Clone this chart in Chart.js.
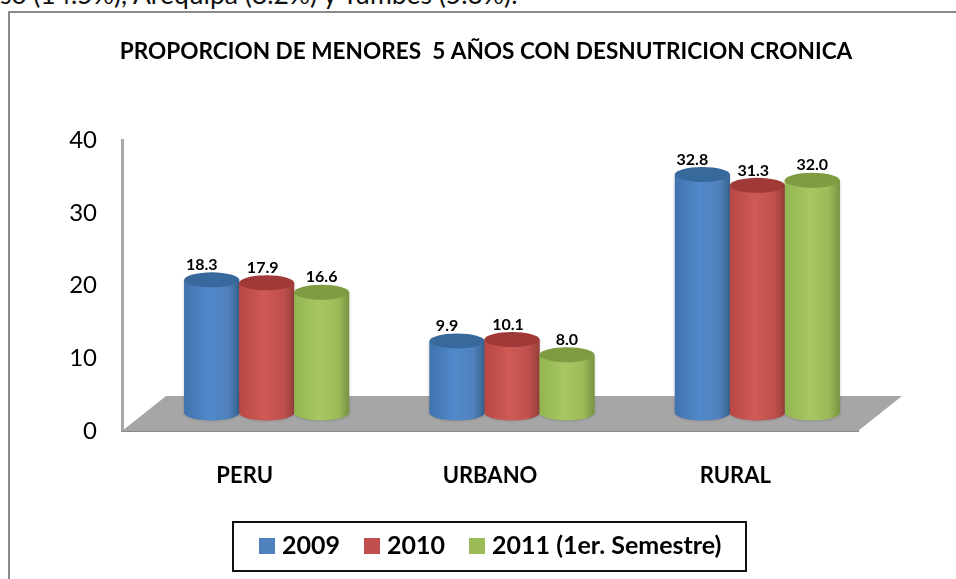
<!DOCTYPE html>
<html lang="es">
<head>
<meta charset="utf-8">
<style>
html,body{margin:0;padding:0;background:#fff;width:956px;height:579px;overflow:hidden}
#top{position:absolute;left:0;top:-22px;font:26.5px Lato,sans-serif;color:#111;white-space:pre}
canvas{position:absolute;left:0;top:0}
</style>
<script src="https://cdn.jsdelivr.net/npm/chart.js@4"></script>
</head>
<body>
<div id="top">so (14.5%), Arequipa (8.2%) y Tumbes (5.3%).</div>
<canvas id="c" width="956" height="579"></canvas>
<script>
const titleText = 'PROPORCION DE MENORES  5 AÑOS CON DESNUTRICION CRONICA';
const categories = ['PERU', 'URBANO', 'RURAL'];
const seriesNames = ['2009', '2010', '2011 (1er. Semestre)'];
const values2009 = [18.3, 9.9, 32.8];
const values2010 = [17.9, 10.1, 31.3];
const values2011 = [16.6, 8.0, 32.0];
const yTicks = [0, 10, 20, 30, 40];

const FONT = 'Lato, sans-serif';
const depth = { dx: 22, dy: -18 };
const capRy = 7.5;
const looks = [
  { base: '#4f81bd', edgeL: '#3f72ad', mid: '#5289cc', edgeR: '#37638f', cap: '#38699c', labelDx: -10 },
  { base: '#c0504d', edgeL: '#b84744', mid: '#cf5a56', edgeR: '#983f3c', cap: '#a03a38', labelDx: -4 },
  { base: '#9bbb59', edgeL: '#93b552', mid: '#a6c763', edgeR: '#789441', cap: '#7f9c42', labelDx: 0 }
];

function swatch(color) {
  const s = document.createElement('canvas');
  s.width = 16; s.height = 16;
  const g = s.getContext('2d');
  g.fillStyle = color; g.fillRect(0, 0, 16, 16);
  return s;
}

function cylinder(c, bar, look) {
  const w = bar.width, x0 = bar.x - w / 2, x1 = bar.x + w / 2, rx = w / 2;
  const grad = c.createLinearGradient(x0, 0, x1, 0);
  grad.addColorStop(0, look.edgeL);
  grad.addColorStop(0.45, look.mid);
  grad.addColorStop(0.8, look.base);
  grad.addColorStop(1, look.edgeR);
  c.save();
  c.shadowColor = 'rgba(0,0,0,0.25)'; c.shadowBlur = 3;
  c.fillStyle = grad;
  c.beginPath();
  c.moveTo(x0, bar.y);
  c.lineTo(x0, bar.base);
  c.ellipse(bar.x, bar.base, rx, capRy, 0, Math.PI, 0, true);
  c.lineTo(x1, bar.y);
  c.closePath(); c.fill();
  c.restore();
  c.fillStyle = look.cap;
  c.beginPath();
  c.ellipse(bar.x, bar.y, rx, capRy, 0, 0, Math.PI * 2);
  c.fill();
}

const scene = {
  id: 'scene',
  afterLayout(chart) {
    const t = chart.titleBlock;
    t.left += 57; t.right += 57;
    t.top = 38; t.bottom = 64;
    const l = chart.legend;
    l.left += 64; l.right += 64;
    l.top = 504; l.bottom = 596;
  },
  beforeDraw(chart) {
    const c = chart.ctx;
    c.save();
    c.strokeStyle = '#8a8a8a'; c.lineWidth = 2;
    c.beginPath(); c.moveTo(9, 579); c.lineTo(9, 12); c.lineTo(956, 12); c.stroke();
    c.strokeStyle = '#111'; c.lineWidth = 2;
    c.strokeRect(233, 522, 513, 49);
    c.restore();
  },
  beforeDatasetsDraw(chart) {
    const c = chart.ctx, a = chart.chartArea;
    c.save();
    c.fillStyle = '#a6a6a6';
    c.beginPath();
    c.moveTo(a.left, a.bottom);
    c.lineTo(a.right, a.bottom);
    c.lineTo(a.right + 44, a.bottom - 35);
    c.lineTo(a.left + 44, a.bottom - 35);
    c.closePath(); c.fill();
    c.restore();
    c.save();
    c.translate(depth.dx, depth.dy);
  },
  afterDatasetsDraw(chart) {
    const c = chart.ctx;
    chart.data.datasets.forEach((ds, i) => {
      chart.getDatasetMeta(i).data.forEach((bar) => cylinder(c, bar, looks[i]));
    });
    chart.data.datasets.forEach((ds, i) => {
      chart.getDatasetMeta(i).data.forEach((bar, j) => {
        c.fillStyle = '#000';
        c.font = 'bold 16px ' + FONT;
        c.textAlign = 'center'; c.textBaseline = 'middle';
        c.fillText(ds.data[j].toFixed(1), bar.x + looks[i].labelDx, bar.y - 15);
      });
    });
    c.restore();
  }
};

new Chart(document.getElementById('c'), {
  type: 'bar',
  plugins: [scene],
  data: {
    labels: categories,
    datasets: [
      { label: seriesNames[0], data: values2009, backgroundColor: looks[0].base, pointStyle: swatch(looks[0].base) },
      { label: seriesNames[1], data: values2010, backgroundColor: looks[1].base, pointStyle: swatch(looks[1].base) },
      { label: seriesNames[2], data: values2011, backgroundColor: looks[2].base, pointStyle: swatch(looks[2].base) }
    ]
  },
  options: {
    responsive: false,
    animation: false,
    events: [],
    layout: { padding: { left: 0, right: 98, top: 113, bottom: 0 }, autoPadding: false },
    datasets: { bar: { categoryPercentage: 0.672, barPercentage: 1, borderWidth: 0 } },
    scales: {
      x: {
        grid: { display: false, drawTicks: false },
        border: { color: '#8a8a8a', width: 3 },
        ticks: { color: '#000', font: { family: FONT, size: 22, weight: 'bold' }, padding: 31.5 },
        afterFit(s) { s.height = 83.6; }
      },
      y: {
        min: 0, max: 40,
        grid: { display: false, drawTicks: false },
        border: { color: '#a8a8a8', width: 3 },
        afterBuildTicks(s) { s.ticks = yTicks.map(v => ({ value: v })); },
        ticks: { color: '#000', font: { family: FONT, size: 24 }, padding: 25 },
        afterFit(s) { s.width = 122; }
      }
    },
    plugins: {
      tooltip: { enabled: false },
      title: {
        display: true, text: titleText, color: '#000', padding: 0,
        font: { family: FONT, size: 22.6, weight: 'bold' }
      },
      legend: {
        display: true, position: 'bottom', align: 'center',
        labels: {
          usePointStyle: true, pointStyleWidth: 5, boxHeight: 16,
          padding: 29.5, color: '#000',
          font: { family: FONT, size: 25, weight: 'bold' }
        }
      }
    }
  }
});
</script>
</body>
</html>
